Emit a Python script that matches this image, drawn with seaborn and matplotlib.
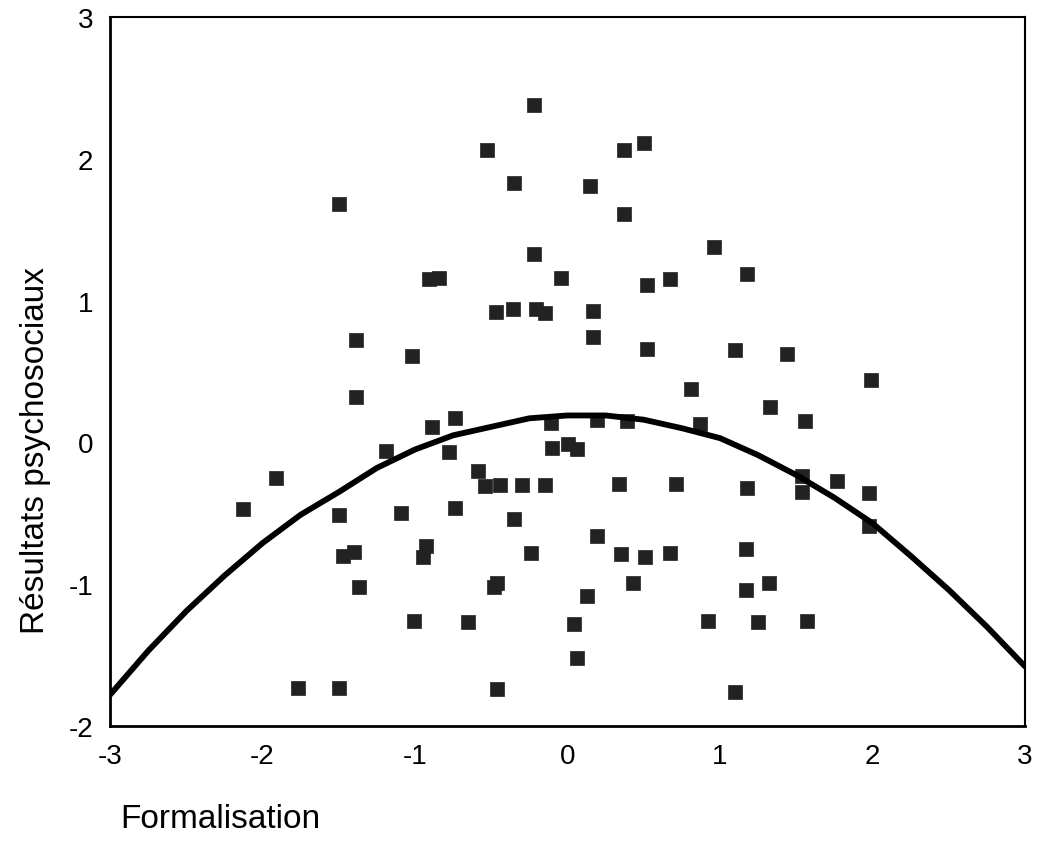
import numpy as np
import pandas as pd
import matplotlib
matplotlib.use('Agg')
import matplotlib.pyplot as plt
import seaborn as sns

# Points (Formalisation, Résultats psychosociaux)
formalisation = [-0.22, -0.53, 0.37, 0.50, -0.35, 0.15, 0.37, -1.50, -0.22, 0.96,
                 1.18, -0.91, -0.84, -0.04, 0.52, 0.67, -0.47, -0.36, -0.21, -0.15,
                 0.17, 0.17, -1.39, -1.02, 0.52, 1.10, 1.44, 1.99, -1.39, 0.81,
                 1.33, -0.74, -0.89, -0.11, 0.19, 0.39, 0.87, 1.56, -1.19, -0.78,
                 -0.10, 0.00, 0.06, -1.91, -0.59, -0.54, -0.44, -0.30, -0.15, 0.34,
                 0.71, 1.18, 1.54, 1.54, 1.77, 1.98, -2.13, -1.50, -1.09, -0.74,
                 -0.35, 1.98, 0.19, -1.47, -1.40, -0.93, -0.95, -0.24, 0.35, 0.51,
                 0.67, 1.17, -0.48, -0.46, -1.37, 0.43, 0.13, 1.17, 1.32, -1.01,
                 -0.65, 0.04, 0.92, 1.25, 1.57, 0.06, -1.77, -1.50, -0.46, 1.10]
resultats = [2.38, 2.06, 2.06, 2.11, 1.83, 1.81, 1.61, 1.68, 1.33, 1.38,
             1.19, 1.15, 1.16, 1.16, 1.11, 1.15, 0.92, 0.94, 0.94, 0.91,
             0.93, 0.74, 0.72, 0.61, 0.66, 0.65, 0.62, 0.44, 0.32, 0.38,
             0.25, 0.17, 0.11, 0.14, 0.16, 0.15, 0.13, 0.15, -0.06, -0.07,
             -0.04, -0.01, -0.05, -0.25, -0.20, -0.31, -0.30, -0.30, -0.30, -0.29,
             -0.29, -0.32, -0.24, -0.35, -0.27, -0.36, -0.47, -0.51, -0.50, -0.46,
             -0.54, -0.59, -0.66, -0.80, -0.77, -0.73, -0.81, -0.78, -0.79, -0.81,
             -0.78, -0.75, -1.02, -0.99, -1.02, -0.99, -1.08, -1.04, -0.99, -1.26,
             -1.27, -1.28, -1.26, -1.27, -1.26, -1.52, -1.73, -1.73, -1.74, -1.76]

# Courbe d'ajustement
courbe_x = [-3.0, -2.75, -2.5, -2.25, -2.0, -1.75, -1.5, -1.25, -1.0, -0.75, -0.5, -0.25,
            0.0, 0.25, 0.5, 0.75, 1.0, 1.25, 1.5, 1.75, 2.0, 2.25, 2.5, 2.75, 3.0]
courbe_y = [-1.78, -1.47, -1.19, -0.94, -0.71, -0.51, -0.35, -0.18, -0.05, 0.05, 0.11, 0.17,
            0.19, 0.19, 0.16, 0.10, 0.03, -0.09, -0.23, -0.39, -0.57, -0.80, -1.04, -1.30, -1.58]

ticks = [-3, -2, -1, 0, 1, 2, 3]

df = pd.DataFrame({'Formalisation': formalisation, 'Resultats': resultats})
df_courbe = pd.DataFrame({'x': courbe_x, 'y': courbe_y})

sns.set_style('white')
plt.rcParams['font.family'] = ['Liberation Sans', 'DejaVu Sans']
plt.rcParams['axes.unicode_minus'] = False
plt.rcParams['text.color'] = 'black'
plt.rcParams['axes.labelcolor'] = 'black'
plt.rcParams['xtick.color'] = 'black'
plt.rcParams['ytick.color'] = 'black'

fig = plt.figure(figsize=(10.45, 8.53), dpi=100)
ax = fig.add_axes([0.1053, 0.1477, 0.8756, 0.8312])

sns.scatterplot(data=df, x='Formalisation', y='Resultats', marker='s', s=110,
                color='#222222', edgecolor='#222222', linewidth=0.5, ax=ax, zorder=2)
sns.lineplot(data=df_courbe, x='x', y='y', color='black', linewidth=4.2,
             ax=ax, zorder=3, sort=True)

ax.set_xlim(-3, 3)
ax.set_ylim(-2, 3)
ax.set_xticks(ticks)
ax.set_yticks(ticks[1:])
ax.set_xticklabels([str(t) for t in ticks])
ax.set_yticklabels([str(t) for t in ticks[1:]])
ax.tick_params(axis='both', direction='out', length=4, width=3, labelsize=20,
               color='black', labelcolor='black', pad=8)

for side in ['left', 'bottom']:
    ax.spines[side].set_linewidth(2.0)
for side in ['top', 'right']:
    ax.spines[side].set_linewidth(1.5)
for s in ax.spines.values():
    s.set_color('black')

ax.set_xlabel('Formalisation', fontsize=24, ha='left', va='center')
ax.xaxis.set_label_coords(0.011, -0.131)
ax.set_ylabel('Résultats psychosociaux', fontsize=24, va='center')
ax.yaxis.set_label_coords(-0.082, 0.39)

plt.savefig('out.png', dpi=100)
